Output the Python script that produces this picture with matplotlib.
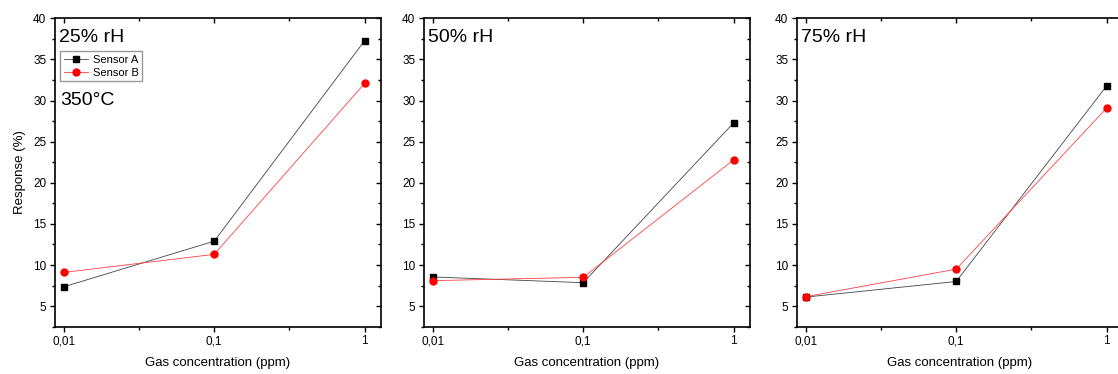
import numpy as np
import matplotlib
matplotlib.use("Agg")
from matplotlib import pyplot as plt
from matplotlib.ticker import FixedLocator, MultipleLocator

plt.rcParams['font.family'] = ['Liberation Sans', 'DejaVu Sans']

# Данные
conc = [0.01, 0.1, 1]
conc_labels = ['0,01', '0,1', '1']
humidity = ['25% rH', '50% rH', '75% rH']

sensor_a = [
    [7.35, 12.9, 37.3],
    [8.55, 7.85, 27.3],
    [6.1, 8.0, 31.8],
]
sensor_b = [
    [9.1, 11.3, 32.1],
    [8.1, 8.5, 22.8],
    [6.15, 9.5, 29.1],
]

fig = plt.figure(figsize=(11.18, 3.74), dpi=100)

lefts = [55, 424, 797]
for i in range(3):
    ax = fig.add_axes([lefts[i] / 1118, 47.3 / 374, 326 / 1118, 308.4 / 374])
    ax.plot(conc, sensor_a[i], color='#444444', lw=0.6, marker='s', ms=4.3,
            mec='black', mfc='black', label='Sensor A')
    ax.plot(conc, sensor_b[i], color='#ff4040', lw=0.6, marker='o', ms=5,
            mec='red', mfc='red', label='Sensor B')

    ax.set_xscale('log')
    ax.set_xlim(10 ** -2.058, 10 ** 0.108)
    ax.set_ylim(2.5, 40)
    ax.xaxis.set_major_locator(FixedLocator(conc))
    ax.xaxis.set_minor_locator(FixedLocator([10 ** -1.5, 10 ** -0.5]))
    ax.set_xticklabels(conc_labels)
    ax.yaxis.set_major_locator(MultipleLocator(5))
    ax.yaxis.set_minor_locator(MultipleLocator(2.5))

    ax.tick_params(which='both', direction='out', labelsize=8.5, width=1,
                   top=True, right=True, pad=2.5)
    ax.tick_params(which='major', length=3.8)
    ax.tick_params(which='minor', length=2.5)
    # верхние и правые риски внутрь
    for t in ax.xaxis.get_major_ticks() + ax.xaxis.get_minor_ticks():
        t.tick2line.set_marker(3)
    for t in ax.yaxis.get_major_ticks() + ax.yaxis.get_minor_ticks():
        t.tick2line.set_marker(0)
    for s in ax.spines.values():
        s.set_linewidth(1.2)

    ax.set_xlabel('Gas concentration (ppm)', fontsize=9.5, labelpad=7)
    ax.text(0.013, 0.965, humidity[i], transform=ax.transAxes, fontsize=14,
            va='top', ha='left')

    if i == 0:
        ax.set_ylabel('Response (%)', fontsize=9.5, labelpad=5)
        ax.legend(loc='upper left', bbox_to_anchor=(0.01, 0.9), fontsize=8,
                  frameon=True, fancybox=False, edgecolor='gray',
                  borderpad=0.3, labelspacing=0.3, handlelength=2.2,
                  handletextpad=0.4, borderaxespad=0.2)
        ax.text(0.015, 0.76, '350°C', transform=ax.transAxes, fontsize=14,
                va='top', ha='left')

fig.savefig('out.png', dpi=100)
